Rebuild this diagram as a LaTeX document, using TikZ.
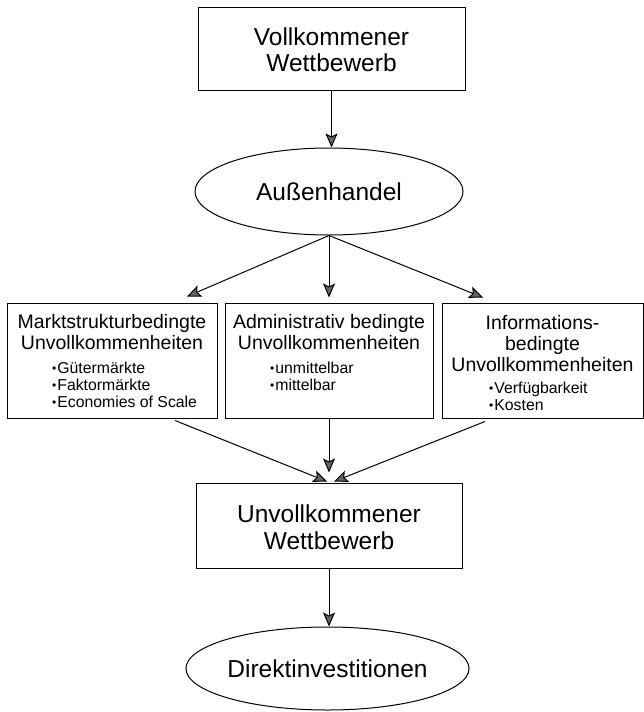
\documentclass[tikz,border=0pt]{standalone}
\usepackage{fontspec}
\setmainfont{Liberation Sans}
\usetikzlibrary{shapes.geometric,arrows.meta,calc}
\newcommand\bul{\raisebox{1.3pt}{\fontsize{12pt}{12pt}\selectfont •}\hspace{1pt}}
\tikzset{
  frame/.style={draw, line width=1pt, inner sep=0pt},
  oval/.style={draw, ellipse, line width=1pt, inner sep=0pt},
  bigtxt/.style={font={\fontsize{24.5pt}{26.5pt}\selectfont}, align=center, inner sep=0pt},
  midtxt/.style={font={\fontsize{19.5pt}{21pt}\selectfont}, align=center, inner sep=0pt},
  smalltxt/.style={font={\fontsize{15.8pt}{17pt}\selectfont}, align=left, inner sep=0pt, anchor=west},
  arr/.style={line width=1pt, -{Stealth[length=14pt, width=12pt, inset=3pt, fill=black!60]}}
}
\begin{document}
\begin{tikzpicture}[x=1pt, y=-1pt]
\useasboundingbox (0,0) rectangle (644,712);
% top box
\node[frame, minimum width=267pt, minimum height=83pt] (top) at (331.5,48.5) {};
\node[bigtxt] (toptxt) at (331.5,49.5) {Vollkommener\\Wettbewerb};
% ellipse 1
\node[oval, minimum width=268pt, minimum height=87pt, bigtxt] (e1) at (329,191.5) {Außenhandel};
% three boxes
\node[frame, minimum width=210pt, minimum height=115pt] (L) at (112,360.5) {};
\node[frame, minimum width=208pt, minimum height=115pt] (M) at (329,360.5) {};
\node[frame, minimum width=201pt, minimum height=115pt] (R) at (542.5,360.5) {};
\node[midtxt] (Lt) at (112,332.5) {Marktstrukturbedingte\\Unvollkommenheiten};
\node[smalltxt] (Lb) at (52,385) {\bul Gütermärkte\\\bul Faktormärkte\\\bul Economies of Scale};
\node[midtxt] (Mt) at (329,332.5) {Administrativ bedingte\\Unvollkommenheiten};
\node[smalltxt] (Mb) at (270,376.5) {\bul unmittelbar\\\bul mittelbar};
\node[midtxt] (Rt) at (542.5,343.5) {Informations-\\bedingte\\Unvollkommenheiten};
\node[smalltxt] (Rb) at (489,396.5) {\bul Verfügbarkeit\\\bul Kosten};
% bottom box
\node[frame, minimum width=266pt, minimum height=85pt] (B) at (329,525.5) {};
\node[bigtxt] (Btxt) at (329,527) {Unvollkommener\\Wettbewerb};
% ellipse 2
\node[oval, minimum width=269pt, minimum height=83pt, bigtxt] (e2) at (327.5,668.5) {Direktinvestitionen};
% connectors
\draw[arr] (top.south) -- (top.south |- e1.north);
\draw[arr] (e1.south) -- ($(L.north)+(75,-6)$);
\draw[arr] (e1.south) -- ($(M.north)+(0,-5)$);
\draw[arr] (e1.south) -- ($(R.north)+(-59.5,-5)$);
\draw[arr] ($(L.south)+(63,2)$) -- ($(B.north)+(-2,-1)$);
\draw[arr] (M.south) -- ($(B.north)+(0,-10)$);
\draw[arr] ($(R.south)+(-57.5,3)$) -- ($(B.north)+(5,-1)$);
\draw[arr] (B.south) -- (B.south |- e2.north);
\end{tikzpicture}
\end{document}
